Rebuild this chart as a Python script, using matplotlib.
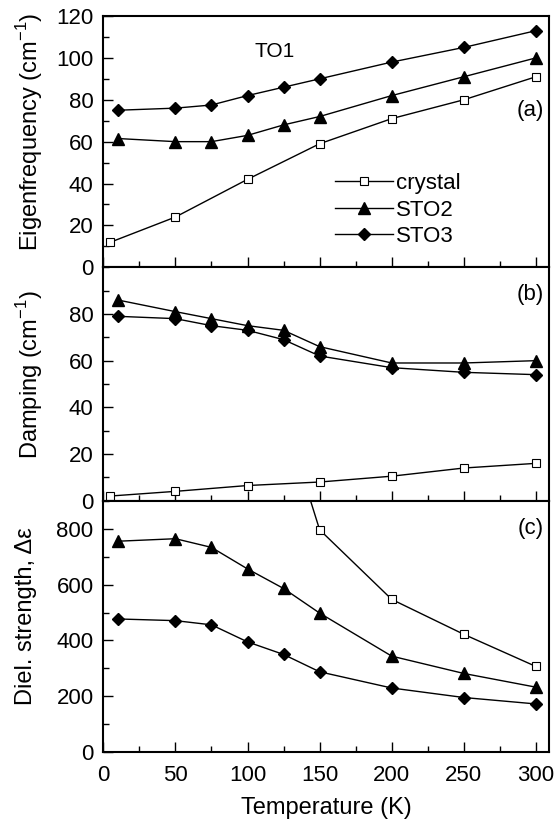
import numpy as np
import matplotlib
matplotlib.use("Agg")
import matplotlib.pyplot as plt
from matplotlib.ticker import MultipleLocator

plt.rcParams['font.family'] = ['Liberation Sans', 'DejaVu Sans']
plt.rcParams['mathtext.fontset'] = 'custom'
plt.rcParams['mathtext.rm'] = 'Liberation Sans'

# temperatures (K)
T_crystal = [5, 50, 100, 150, 200, 250, 300]
T_film = [10, 50, 75, 100, 125, 150, 200, 250, 300]

# (a) eigenfrequency (cm-1)
freq_crystal = [12, 24, 42, 59, 71, 80, 91]
freq_sto2 = [61.5, 60, 60, 63, 68, 72, 82, 91, 100]
freq_sto3 = [75, 76, 77.5, 82, 86, 90, 98, 105, 113]

# (b) damping (cm-1)
damp_crystal = [2, 4, 6.5, 8, 10.5, 14, 16]
damp_sto2 = [86, 81, 78, 75, 73, 66, 59, 59, 60]
damp_sto3 = [79, 78, 75, 73, 69, 62, 57, 55, 54]

# (c) dielectric strength (crystal at 100 K is off scale)
T_crystal_c = [100, 150, 200, 250, 300]
diel_crystal = [1620, 796, 547, 422, 307]
diel_sto2 = [755, 764, 733, 656, 586, 498, 344, 282, 233]
diel_sto3 = [477, 471, 456, 395, 350, 288, 230, 196, 173]

fig = plt.figure(figsize=(5.55, 8.25), dpi=100)
left, width = 0.1861, 0.803
ax_a = fig.add_axes([left, 0.676, width, 0.3046])
ax_b = fig.add_axes([left, 0.3931, width, 0.2829])
ax_c = fig.add_axes([left, 0.0881, width, 0.305])

sq = dict(color='black', marker='s', markersize=6.3, markerfacecolor='white',
          markeredgewidth=0.8, linewidth=1.0)
tri = dict(color='black', marker='^', markersize=8.5, linewidth=1.0)
dia = dict(color='black', marker='D', markersize=6.3, linewidth=1.0)

ax_a.plot(T_crystal, freq_crystal, label='crystal', **sq)
ax_a.plot(T_film, freq_sto2, label='STO2', **tri)
ax_a.plot(T_film, freq_sto3, label='STO3', **dia)

ax_b.plot(T_crystal, damp_crystal, **sq)
ax_b.plot(T_film, damp_sto2, **tri)
ax_b.plot(T_film, damp_sto3, **dia)

ax_c.plot(T_crystal_c, diel_crystal, **sq)
ax_c.plot(T_film, diel_sto2, **tri)
ax_c.plot(T_film, diel_sto3, **dia)

ax_a.set_ylim(0, 120)
ax_a.yaxis.set_major_locator(MultipleLocator(20))
ax_a.yaxis.set_minor_locator(MultipleLocator(10))
ax_b.set_ylim(0, 100)
ax_b.set_yticks([0, 20, 40, 60, 80])
ax_b.yaxis.set_minor_locator(MultipleLocator(10))
ax_c.set_ylim(0, 900)
ax_c.set_yticks([0, 200, 400, 600, 800])
ax_c.yaxis.set_minor_locator(MultipleLocator(100))

for ax in (ax_a, ax_b, ax_c):
    ax.set_xlim(0, 309)
    ax.xaxis.set_major_locator(MultipleLocator(50))
    ax.xaxis.set_minor_locator(MultipleLocator(25))
    ax.tick_params(which='both', direction='in', top=False, right=False,
                   labelsize=16, width=1.0)
    ax.tick_params(which='major', length=7)
    ax.tick_params(which='minor', length=4)
    ax.tick_params(axis='y', which='major', pad=7)
    ax.tick_params(axis='x', which='major', pad=9)
    for s in ax.spines.values():
        s.set_linewidth(1.5)

ax_a.tick_params(labelbottom=False)
ax_b.tick_params(labelbottom=False)

ax_a.set_ylabel('Eigenfrequency (cm$^{-1}$)', fontsize=17)
ax_b.set_ylabel('Damping (cm$^{-1}$)', fontsize=17)
ax_c.set_ylabel('Diel. strength, Δε', fontsize=17)
ax_c.set_xlabel('Temperature (K)', fontsize=17, labelpad=8)
ax_a.yaxis.set_label_coords(-0.13, 0.54)
ax_b.yaxis.set_label_coords(-0.13, 0.54)
ax_c.yaxis.set_label_coords(-0.148, 0.54)

ax_a.text(105, 103, 'TO1', fontsize=15, va='center')
ax_a.text(305.5, 75, '(a)', fontsize=16, ha='right', va='center')
ax_b.text(305.5, 88.4, '(b)', fontsize=16, ha='right', va='center')
ax_c.text(305.5, 800, '(c)', fontsize=16, ha='right', va='center')

ax_a.legend(loc='lower left', bbox_to_anchor=(0.52, 0.08), frameon=False,
            fontsize=16, handlelength=2.6, handletextpad=0.15,
            labelspacing=0.25, borderaxespad=0.0, borderpad=0.0)

fig.savefig('out.png', dpi=100)
